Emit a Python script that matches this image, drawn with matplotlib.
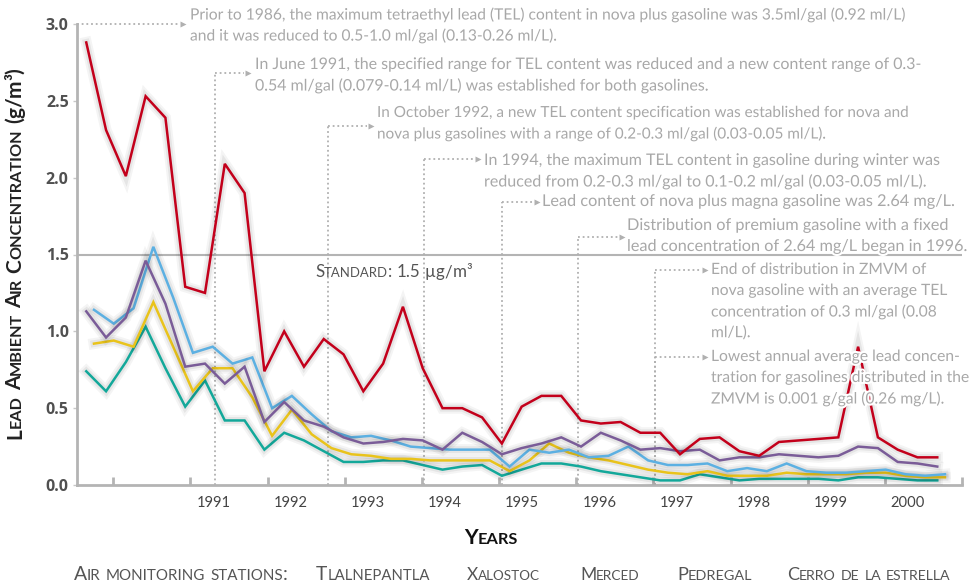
import re
import numpy as np
import matplotlib
matplotlib.use("Agg")
import matplotlib.pyplot as plt
import matplotlib.patheffects as pe
from matplotlib import font_manager as fm
from matplotlib.transforms import IdentityTransform

W, H = 975, 585

# quarterly samples, x in years
t = 1989.65 + 0.2565 * np.arange(44)

red_vals = [2.88, 2.31, 2.01, 2.53, 2.39, 1.29, 1.25, 2.09, 1.90, 0.74,
            1.00, 0.77, 0.95, 0.85, 0.61, 0.79, 1.16, 0.76, 0.50, 0.50,
            0.44, 0.27, 0.51, 0.58, 0.58, 0.42, 0.40, 0.41, 0.34, 0.34,
            0.20, 0.30, 0.31, 0.22, 0.19, 0.28, 0.29, 0.30, 0.31, 0.90,
            0.31, 0.23, 0.18, 0.18]
purple_vals = [1.13, 0.96, 1.09, 1.46, 1.18, 0.77, 0.79, 0.66, 0.77, 0.41,
               0.54, 0.42, 0.38, 0.31, 0.27, 0.28, 0.30, 0.29, 0.23, 0.34,
               0.28, 0.20, 0.24, 0.27, 0.31, 0.25, 0.34, 0.29, 0.23, 0.24,
               0.22, 0.23, 0.16, 0.18, 0.18, 0.20, 0.19, 0.18, 0.19, 0.25,
               0.24, 0.15, 0.14, 0.12]
blue_vals = [1.14, 1.05, 1.15, 1.55, 1.22, 0.86, 0.90, 0.79, 0.83, 0.50,
             0.58, 0.46, 0.35, 0.31, 0.32, 0.29, 0.25, 0.24, 0.23, 0.23,
             0.23, 0.12, 0.23, 0.21, 0.23, 0.18, 0.19, 0.25, 0.16, 0.13,
             0.13, 0.14, 0.09, 0.11, 0.09, 0.14, 0.09, 0.08, 0.08, 0.09,
             0.10, 0.07, 0.06, 0.07]
yellow_vals = [0.92, 0.94, 0.90, 1.19, 0.90, 0.61, 0.76, 0.76, 0.57, 0.32,
               0.49, 0.33, 0.24, 0.20, 0.19, 0.17, 0.17, 0.16, 0.16, 0.16,
               0.16, 0.09, 0.16, 0.27, 0.21, 0.18, 0.16, 0.13, 0.10, 0.08,
               0.07, 0.09, 0.06, 0.06, 0.06, 0.08, 0.07, 0.07, 0.07, 0.08,
               0.08, 0.06, 0.05, 0.05]
teal_vals = [0.74, 0.61, 0.80, 1.03, 0.76, 0.51, 0.68, 0.42, 0.42, 0.23,
             0.34, 0.29, 0.22, 0.15, 0.15, 0.16, 0.16, 0.13, 0.10, 0.12,
             0.13, 0.06, 0.10, 0.14, 0.14, 0.12, 0.09, 0.07, 0.05, 0.03,
             0.03, 0.07, 0.05, 0.03, 0.04, 0.04, 0.04, 0.04, 0.03, 0.05,
             0.05, 0.04, 0.03, 0.03]

years = [1991, 1992, 1993, 1994, 1995, 1996, 1997, 1998, 1999, 2000]
stations = ["Tlalnepantla", "Xalostoc", "Merced", "Pedregal", "Cerro de la estrella"]
standard = 1.5

notes = [
    ["Prior to 1986, the maximum tetraethyl lead (TEL) content in nova plus gasoline was 3.5ml/gal (0.92 ml/L)",
     "and it was reduced to 0.5-1.0 ml/gal (0.13-0.26 ml/L)."],
    ["In June 1991, the specified range for TEL content was reduced and a new content range of 0.3-",
     "0.54 ml/gal (0.079-0.14 ml/L) was established for both gasolines."],
    ["In October 1992, a new TEL content specification was established for nova and",
     "nova plus gasolines with a range of 0.2-0.3 ml/gal (0.03-0.05 ml/L)."],
    ["In 1994, the maximum TEL content in gasoline during winter was",
     "reduced from 0.2-0.3 ml/gal to 0.1-0.2 ml/gal (0.03-0.05 ml/L)."],
    ["Lead content of nova plus magna gasoline was 2.64 mg/L."],
    ["Distribution of premium gasoline with a fixed",
     "lead concentration of 2.64 mg/L began in 1996."],
    ["End of distribution in ZMVM of",
     "nova gasoline with an average TEL",
     "concentration of 0.3 ml/gal (0.08",
     "ml/L)."],
    ["Lowest annual average lead concen-",
     "tration for gasolines distributed in the",
     "ZMVM is 0.001 g/gal (0.26 mg/L)."],
]

FP_S = fm.FontProperties(family=["Lato", "DejaVu Sans"])
FP_B = fm.FontProperties(family=["Lato", "DejaVu Sans"], weight="bold")
FP_SB = fm.FontProperties(family=["Open Sans", "DejaVu Sans"], weight="bold")
GREY = "#a8a8a8"

fig = plt.figure(figsize=(W / 100, H / 100), dpi=100)
fig.patch.set_facecolor("white")
ax = fig.add_axes([77 / W, 1 - 485 / H, (962 - 77) / W, (485 - 24) / H])
ax.set_xlim(1989.53, 2001.0)
ax.set_ylim(0, 3.0)
renderer = fig.canvas.get_renderer()


def xd(px):
    return 1990 + (px - 113) / 77.0


def yd(py):
    return (485 - py) / 153.67


def text_w(s, fs, fp):
    a = fig.text(0, 0, "|" + s + "|", fontproperties=fp, fontsize=fs)
    b = fig.text(0, 0, "||", fontproperties=fp, fontsize=fs)
    w = a.get_window_extent(renderer).width - b.get_window_extent(renderer).width
    a.remove()
    b.remove()
    return w


# lines with a soft grey halo
glow = [pe.Stroke(linewidth=8, foreground="#000000", alpha=0.045),
        pe.Stroke(linewidth=5, foreground="#000000", alpha=0.06),
        pe.Normal()]
series = [
    (teal_vals, "#13a89a", 0.0),
    (yellow_vals, "#e9c31b", 0.1),
    (blue_vals, "#5cb0e2", 0.1),
    (purple_vals, "#7a5c98", 0.0),
    (red_vals, "#c3001b", 0.0),
]
for vals, col, shift in series:
    ax.plot(t + shift, vals, color=col, lw=1.8, solid_joinstyle="miter",
            path_effects=glow, zorder=3)

ax.axhline(standard, color="#b4b4b4", lw=1.5, zorder=1)

# axes styling
for s in ["top", "right"]:
    ax.spines[s].set_visible(False)
for s in ["left", "bottom"]:
    ax.spines[s].set_color("#b4b4b4")
    ax.spines[s].set_linewidth(2)
ax.set_yticks(np.arange(0, 3.01, 0.5))
ax.set_yticklabels(["%.1f" % v for v in np.arange(0, 3.01, 0.5)])
ax.tick_params(axis="y", length=3, width=1, color="#c8c8c8", pad=3,
               labelsize=11.5, labelcolor="#505050")
for lb in ax.get_yticklabels():
    lb.set_fontproperties(FP_SB)
    lb.set_fontsize(11.5)
ax.set_xticks(np.arange(1990, 2002))
ax.set_xticklabels([])
ax.tick_params(axis="x", which="major", direction="in", length=6, width=2, color="#b4b4b4")
ax.set_xticks([y + 0.3 for y in years], minor=True)
ax.set_xticklabels([str(y) for y in years], minor=True)
ax.tick_params(axis="x", which="minor", length=0, pad=8, labelcolor="#444444")
yl_fs = 12 * 34.0 / text_w("1991", 12, FP_S)
for lb in ax.get_xticklabels(minor=True):
    lb.set_fontproperties(FP_S)
    lb.set_fontsize(yl_fs)

# annotations: (vertical line px, arrow y px, arrow end px, text x px, first line y px,
#               right edge of first line px)
ann = [
    (None, 24, 183, 190, 15, 905),
    (215, 73, 247, 255, 65, 921),
    (327, 126, 370, 377, 113, 908),
    (423, 159, 477, 484, 161, 940),
    (501, 202, 536, 542, 202, 955),
    (577, 237, 621, 627, 226, 948),
    (654, 270, 704, 711, 270, 926),
    (654, 357, 704, 711, 357, 960),
]
dot = dict(color="#b0b0b0", lw=1.3, ls=(0, (1, 1.6)), clip_on=False, zorder=2)
for (vx, ay, aend, tx, ty, right), lines in zip(ann, notes):
    x0 = xd(77) if vx is None else xd(vx)
    if vx is not None:
        ax.plot([x0, x0], [0, yd(ay)], **dot)
    ax.plot([x0, xd(aend - 4)], [yd(ay), yd(ay)], **dot)
    ax.plot([xd(aend)], [yd(ay)], marker=">", ms=4, color="#b0b0b0", mec="none",
            clip_on=False, zorder=2)
    fs = 11.0 * (right - tx) / text_w(lines[0], 11.0, FP_S)
    for k, ln in enumerate(lines):
        fig.text(tx / W, 1 - (ty + 21 * k) / H, ln, color=GREY, fontproperties=FP_S,
                 fontsize=fs, va="center", ha="left", zorder=5,
                 path_effects=[pe.withStroke(linewidth=3, foreground="white")])


# small caps text built from pieces
def small_caps(parts, fs, ratio=0.78):
    pieces = []
    for s, sc in parts:
        for m in re.finditer(r" +|[a-z]+|[^a-z ]+", s):
            seg = m.group()
            if sc and seg.islower():
                pieces.append((seg.upper(), fs * ratio))
            else:
                pieces.append((seg, fs))
    return pieces


def draw_pieces(pieces, x, y, fp, rot=0, center=False, width=None, **kw):
    ws = [text_w(s, f, fp) for s, f in pieces]
    if width is not None:
        k = width / sum(ws)
        pieces = [(s, f * k) for s, f in pieces]
        ws = [w * k for w in ws]
    total = sum(ws)
    ang = np.radians(rot)
    pos = -total / 2 if center else 0
    for (s, f), w in zip(pieces, ws):
        if s.strip():
            fig.text(x + pos * np.cos(ang), (H - y) + pos * np.sin(ang), s,
                     fontproperties=fp, fontsize=f, transform=IdentityTransform(),
                     rotation=rot, rotation_mode="anchor", ha="left", va="baseline", **kw)
        pos += w


# y axis label
draw_pieces(small_caps([("Lead Ambient Air Concentration ", True), ("(g/m\u00b3)", False)], 13),
            21, 253, FP_B, rot=90, center=True, width=372, color="#222222")
# x axis label
draw_pieces(small_caps([("Years", True)], 13), 491, 544, FP_B, center=True,
            width=54, color="#111111")
# standard label
draw_pieces(small_caps([("Standard", True), (": %.1f \u00b5g/m\u00b3" % standard, False)], 12.5),
            315, 277, FP_S, width=157, color="#555555")
# station legend
draw_pieces(small_caps([("Air monitoring stations:", True)], 12), 74, 580, FP_S,
            width=214, color="#555555")
for name, sx, sw in zip(stations, [316, 467, 580, 677, 787], [114, 73, 60, 75, 164]):
    draw_pieces(small_caps([(name[0].upper() + name[1:], True)], 12), sx, 580, FP_S,
                width=sw, color="#555555")

fig.savefig("out.png", dpi=100)
